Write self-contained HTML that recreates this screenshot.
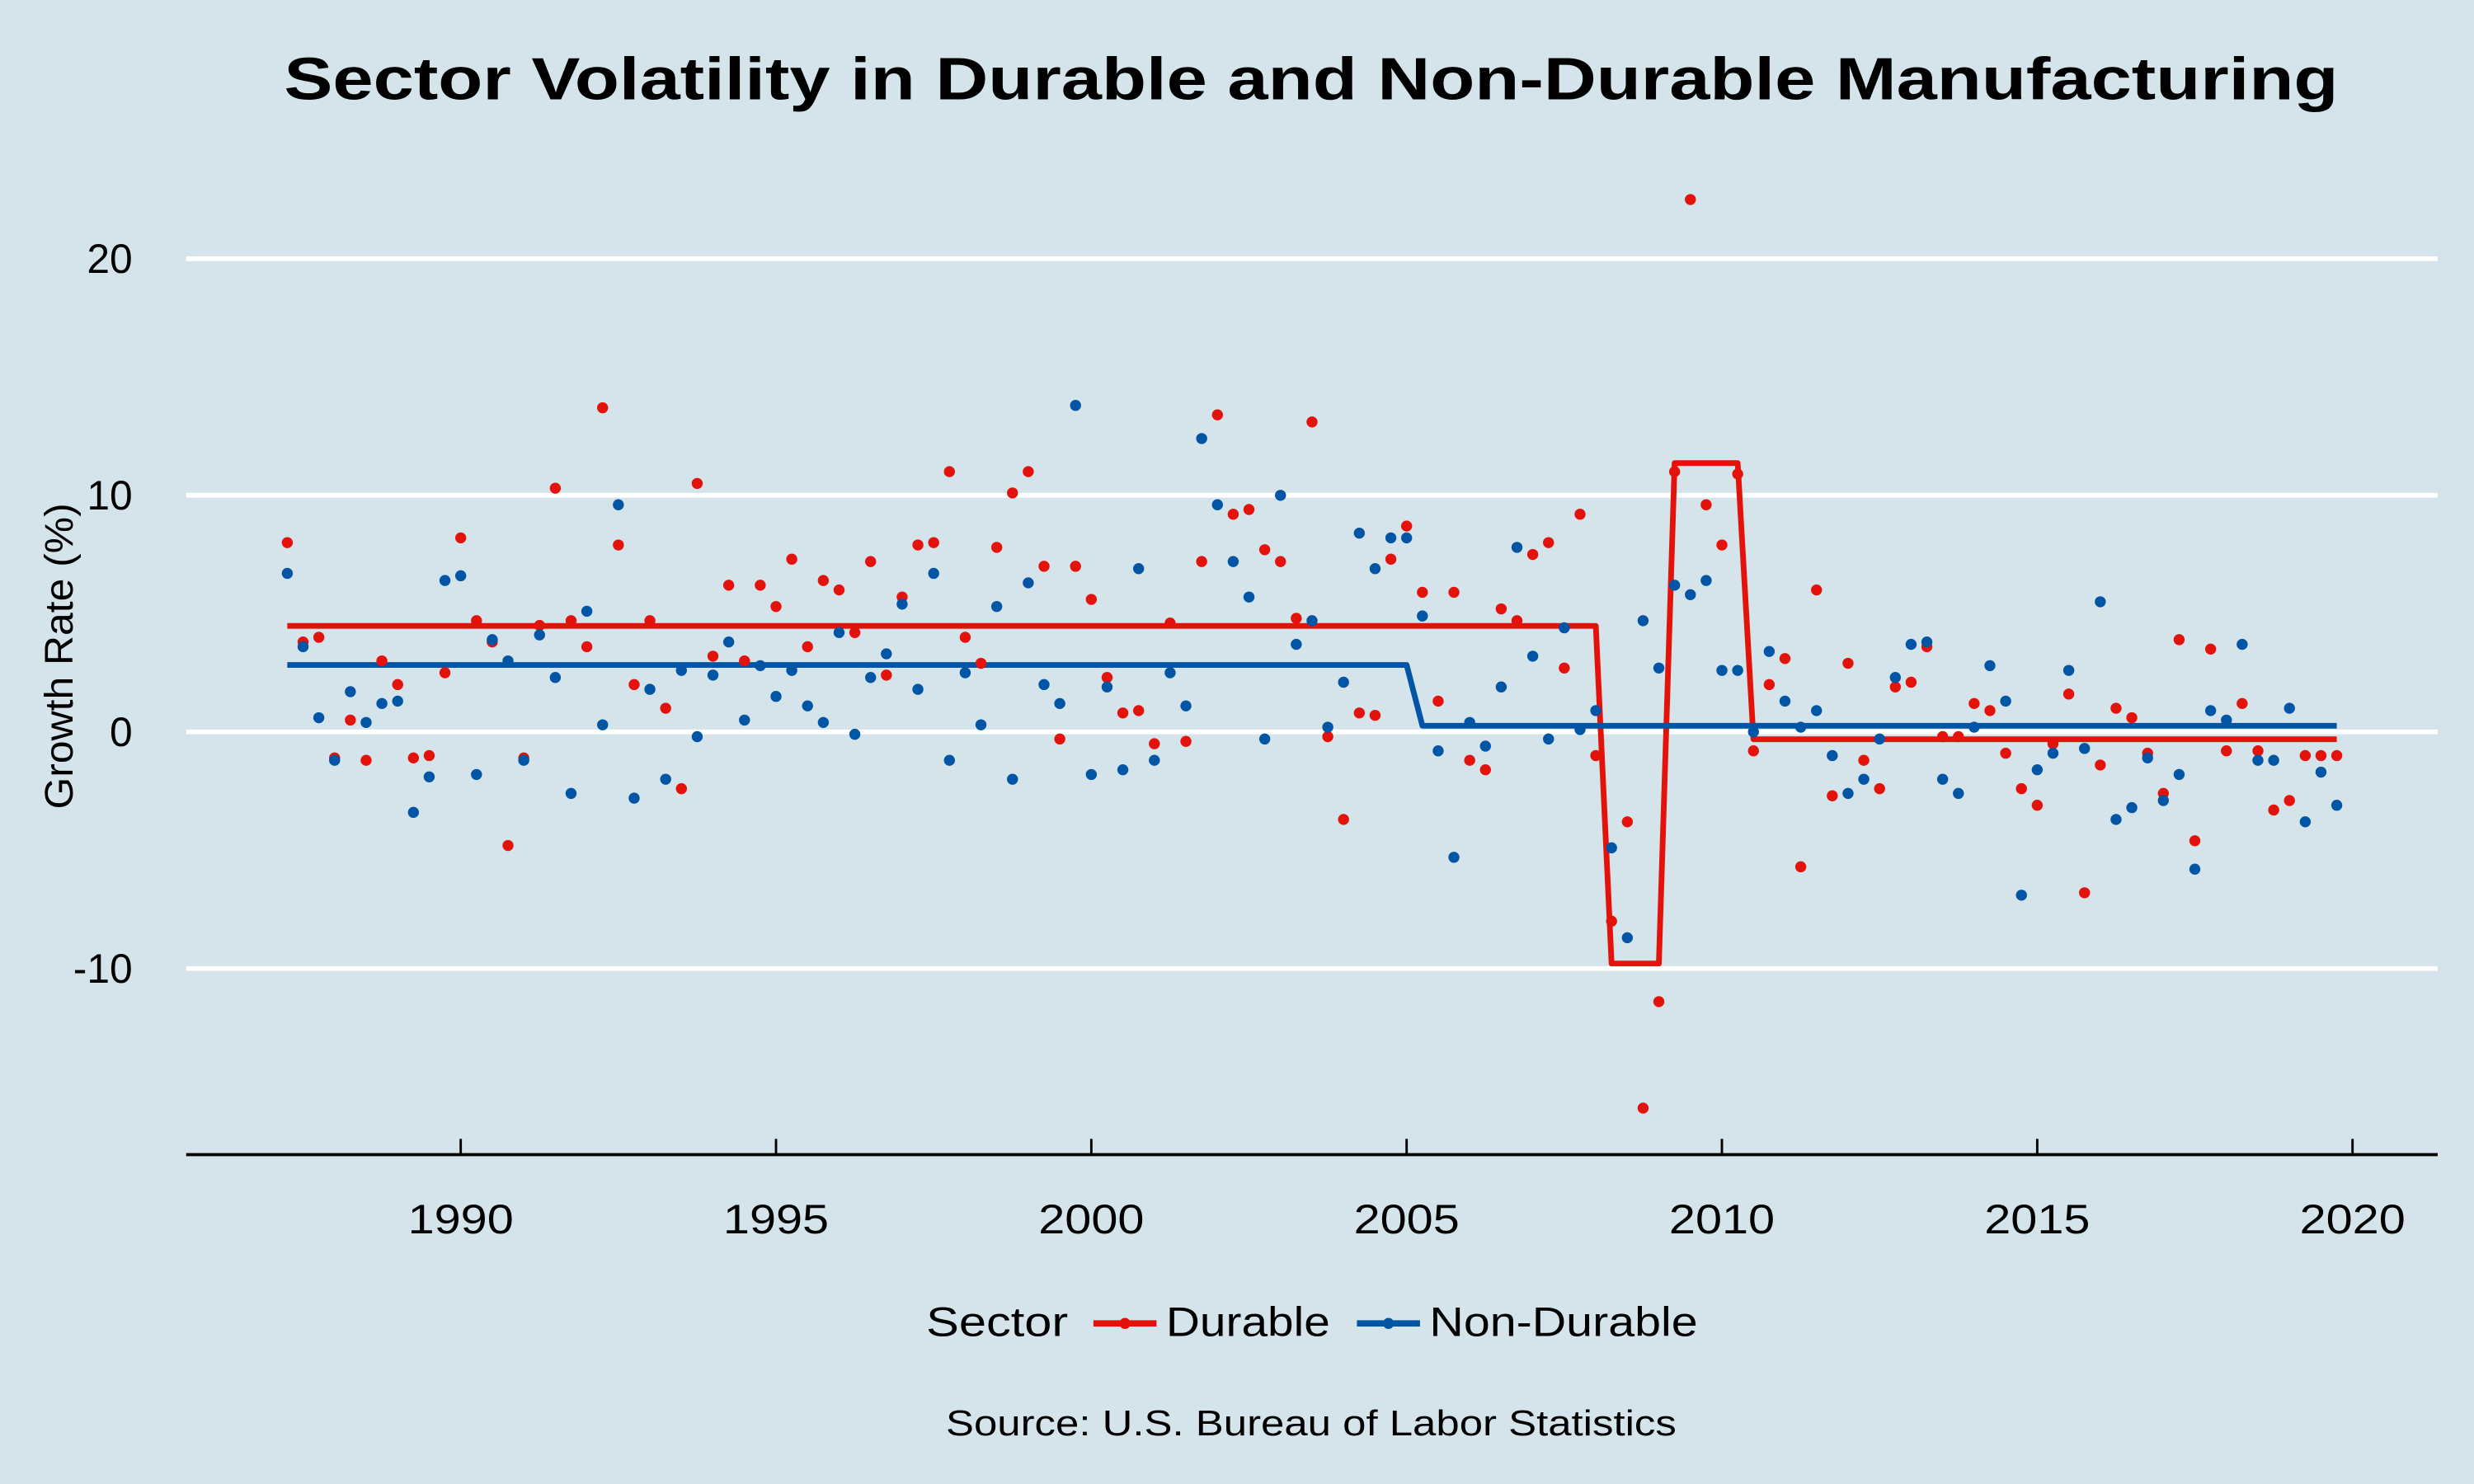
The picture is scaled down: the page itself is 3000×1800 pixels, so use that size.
<!DOCTYPE html>
<html><head><meta charset="utf-8"><style>
html,body{margin:0;padding:0;background:#d5e4eb;}
svg{display:block;font-family:"Liberation Sans","DejaVu Sans",sans-serif;}
</style></head><body>
<svg id="chart" width="3000" height="1800" viewBox="0 0 1568 940.8" preserveAspectRatio="none" xmlns="http://www.w3.org/2000/svg">
<rect x="0" y="0" width="1568" height="941" fill="#d5e4eb"/>
<text x="831" y="63" text-anchor="middle" font-size="38" font-weight="bold" textLength="1302" lengthAdjust="spacingAndGlyphs">Sector Volatility in Durable and Non-Durable Manufacturing</text>
<g id="grid"></g>
<g id="yticks"></g>
<text transform="translate(46,416) rotate(-90)" text-anchor="middle" font-size="25" textLength="194" lengthAdjust="spacingAndGlyphs">Growth Rate (%)</text>
<line x1="118" y1="732" x2="1545" y2="732" stroke="#000" stroke-width="2"/>
<g id="xticks"></g>
<g id="lines"></g>
<g id="points"></g>
<g>
<text x="587" y="847" font-size="26" textLength="90" lengthAdjust="spacingAndGlyphs">Sector</text>
<g>
<line x1="693" y1="839" x2="733" y2="839" stroke="#e3120b" stroke-width="4"/>
<circle cx="713" cy="839" r="3.5" fill="#e3120b"/>
<text x="739" y="847" font-size="26" textLength="104" lengthAdjust="spacingAndGlyphs">Durable</text></g>
<g>
<line x1="860" y1="839" x2="900" y2="839" stroke="#0055a5" stroke-width="4"/>
<circle cx="880" cy="839" r="3.5" fill="#0055a5"/>
<text x="906" y="847" font-size="26" textLength="170" lengthAdjust="spacingAndGlyphs">Non-Durable</text></g>
</g>
<text x="831" y="910" text-anchor="middle" font-size="23" textLength="463" lengthAdjust="spacingAndGlyphs">Source: U.S. Bureau of Labor Statistics</text>
</svg>
<script>
const startYear = 1987.25;
const durable = [8.0,3.8,4.0,-1.1,0.5,-1.2,3.0,2.0,-1.1,-1.0,2.5,8.2,4.7,3.8,-4.8,-1.1,4.5,10.3,4.7,3.6,13.7,7.9,2.0,4.7,1.0,-2.4,10.5,3.2,6.2,3.0,6.2,5.3,7.3,3.6,6.4,6.0,4.2,7.2,2.4,5.7,7.9,8.0,11.0,4.0,2.9,7.8,10.1,11.0,7.0,-0.3,7.0,5.6,2.3,0.8,0.9,-0.5,4.6,-0.4,7.2,13.4,9.2,9.4,7.7,7.2,4.8,13.1,-0.2,-3.7,0.8,0.7,7.3,8.7,5.9,1.3,5.9,-1.2,-1.6,5.2,4.7,7.5,8.0,2.7,9.2,-1.0,-8.0,-3.8,-15.9,-11.4,11.0,22.5,9.6,7.9,10.9,-0.8,2.0,3.1,-5.7,6.0,-2.7,2.9,-1.2,-2.4,1.9,2.1,3.6,-0.2,-0.2,1.2,0.9,-0.9,-2.4,-3.1,-0.5,1.6,-6.8,-1.4,1.0,0.6,-0.9,-2.6,3.9,-4.6,3.5,-0.8,1.2,-0.8,-3.3,-2.9,-1.0,-1.0,-1.0];
const nonDurable = [6.7,3.6,0.6,-1.2,1.7,0.4,1.2,1.3,-3.4,-1.9,6.4,6.6,-1.8,3.9,3.0,-1.2,4.1,2.3,-2.6,5.1,0.3,9.6,-2.8,1.8,-2.0,2.6,-0.2,2.4,3.8,0.5,2.8,1.5,2.6,1.1,0.4,4.2,-0.1,2.3,3.3,5.4,1.8,6.7,-1.2,2.5,0.3,5.3,-2.0,6.3,2.0,1.2,13.8,-1.8,1.9,-1.6,6.9,-1.2,2.5,1.1,12.4,9.6,7.2,5.7,-0.3,10.0,3.7,4.7,0.2,2.1,8.4,6.9,8.2,8.2,4.9,-0.8,-5.3,0.4,-0.6,1.9,7.8,3.2,-0.3,4.4,0.1,0.9,-4.9,-8.7,4.7,2.7,6.2,5.8,6.4,2.6,2.6,0.0,3.4,1.3,0.2,0.9,-1.0,-2.6,-2.0,-0.3,2.3,3.7,3.8,-2.0,-2.6,0.2,2.8,1.3,-6.9,-1.6,-0.9,2.6,-0.7,5.5,-3.7,-3.2,-1.1,-2.9,-1.8,-5.8,0.9,0.5,3.7,-1.2,-1.2,1.0,-3.8,-1.7,-3.1];
const durableRegimeStarts = [0,84,88,93];
const durableRegimeMeans = [4.48,-9.79,11.36,-0.31];
const nonDurableRegimeStarts = [0,72];
const nonDurableRegimeMeans = [2.83,0.26];
const yTicks = [20,10,0,-10];
const yTickLabels = ["20","10","0","-10"];
const xTicks = [1990,1995,2000,2005,2010,2015,2020];
const xTickLabels = ["1990","1995","2000","2005","2010","2015","2020"];

const NS = "http://www.w3.org/2000/svg";
const xScale = yr => 292 + (yr - 1990) * 39.967;
const yScale = v => 464 - v * 15;
function mk(tag, attrs, parent){ const e=document.createElementNS(NS,tag); for(const k in attrs) e.setAttribute(k,attrs[k]); parent.appendChild(e); return e; }

const grid=document.getElementById('grid'), yt=document.getElementById('yticks');
yTicks.forEach((v,i)=>{
  const l=mk('line',{x1:118,x2:1545,y1:yScale(v),y2:yScale(v),stroke:'#fff','stroke-width':3},grid);
  
  
  const t=mk('text',{x:84,y:yScale(v)+9,'text-anchor':'end','font-size':26},yt);
  t.textContent=yTickLabels[i];
  
  
});
const xt=document.getElementById('xticks');
xTicks.forEach((yr,i)=>{
  const l=mk('line',{x1:xScale(yr),x2:xScale(yr),y1:722,y2:732,stroke:'#000','stroke-width':1.5},xt);
  
  
  const t=mk('text',{x:xScale(yr),y:782,'text-anchor':'middle','font-size':26,textLength:67,lengthAdjust:'spacingAndGlyphs'},xt);
  t.textContent=xTickLabels[i];
  
  
});
function regimeValue(i, starts, means){ let v=means[0]; for(let k=0;k<starts.length;k++) if(i>=starts[k]) v=means[k]; return v; }
const linesG=document.getElementById('lines'), ptsG=document.getElementById('points');
function drawSeries(vals, starts, means, color, name){
  const pts=vals.map((_,i)=>xScale(startYear+i/4).toFixed(2)+','+yScale(regimeValue(i,starts,means)).toFixed(2)).join(' ');
  const pl=mk('polyline',{points:pts,fill:'none',stroke:color,'stroke-width':3.6,'stroke-linejoin':'round'},linesG);
  
  
  vals.forEach((v,i)=>{
    const c=mk('circle',{cx:xScale(startYear+i/4),cy:yScale(v),r:3.5,fill:color},ptsG);
    
    
  });
}
drawSeries(durable,durableRegimeStarts,durableRegimeMeans,'#e3120b','durable');
drawSeries(nonDurable,nonDurableRegimeStarts,nonDurableRegimeMeans,'#0055a5','non-durable');
</script>
</body></html>
